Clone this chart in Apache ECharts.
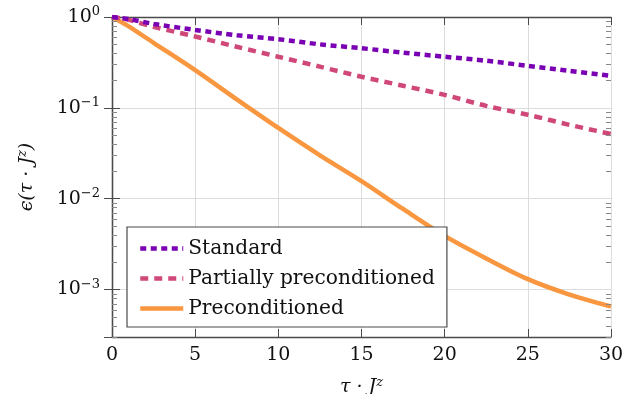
<!DOCTYPE html>
<html>
<head>
<meta charset="utf-8">
<script src="https://cdn.jsdelivr.net/npm/echarts@6/dist/echarts.min.js"></script>
<style>
  html, body { margin: 0; padding: 0; background: #fff; }
  #chart { width: 636px; height: 394px; }
</style>
</head>
<body>
<div id="chart"></div>
<script>
// values (x = tau * J^z, y = epsilon)
const tauValues = [0, 1, 2.5, 5, 7.5, 10, 12.5, 15, 17.5, 20, 22.5, 25, 27.5, 30];
const standardValues = [1.0, 0.95, 0.84, 0.72, 0.63, 0.57, 0.50, 0.453, 0.405, 0.365, 0.33, 0.29, 0.255, 0.225];
const partialValues = [1.0, 0.93, 0.78, 0.61, 0.47, 0.365, 0.284, 0.22, 0.175, 0.139, 0.105, 0.084, 0.065, 0.0515];
const precondValues = [1.0, 0.79, 0.52, 0.26, 0.124, 0.060, 0.030, 0.0156, 0.0077, 0.0039, 0.0022, 0.0013, 0.00088, 0.00065];
const seriesNames = ["Standard", "Partially preconditioned", "Preconditioned"];
const xTicks = [0, 5, 10, 15, 20, 25, 30];
const yMin = 3e-4;
const yMax = 1;

const FONT = "DejaVu Serif";
const AXIS = "#4a4a4a";
const GRID = "#dcdcdc";

const pairs = (ys) => tauValues.map((x, i) => [x, ys[i]]);

const yLabel = (v) => {
  const e = Math.log10(v);
  const r = Math.round(e);
  if (Math.abs(e - r) > 0.01) return "";
  return `{b|10}{s|${r < 0 ? "\u2212" + -r : r}}`;
};

const chart = echarts.init(document.getElementById("chart"), undefined, { renderer: "canvas" });

const xCommon = {
  type: "value",
  min: xTicks[0],
  max: xTicks[xTicks.length - 1],
  interval: 5,
  axisLine: { show: true, onZero: false, lineStyle: { color: AXIS, width: 1.3 } },
  axisTick: { show: true, inside: true, length: 8, lineStyle: { color: AXIS, width: 1 } },
};
const yCommon = {
  type: "log",
  logBase: 10,
  min: yMin,
  max: yMax,
  splitNumber: 4,
  axisLine: { show: true, lineStyle: { color: AXIS, width: 1.3 } },
  axisTick: { show: true, inside: true, length: 8, lineStyle: { color: AXIS, width: 1 } },
};

const nameRich = {
  i: { fontFamily: FONT, fontStyle: "italic", fontSize: 19, color: "#111" },
  s: { fontFamily: FONT, fontStyle: "italic", fontSize: 13, color: "#111", padding: [0, 0, 10, 0] },
};

chart.setOption({
  animation: false,
  textStyle: { fontFamily: FONT },
  grid: { left: 112, right: 25, top: 17, bottom: 57, containLabel: false, outerBoundsMode: "none" },
  legend: {
    orient: "vertical",
    left: 127,
    top: 227,
    padding: [11, 12, 8, 11],
    itemGap: 9,
    itemWidth: 43,
    itemHeight: 14,
    backgroundColor: "#fff",
    borderColor: AXIS,
    borderWidth: 1.2,
    borderRadius: 0,
    itemStyle: { opacity: 0 },
    lineStyle: { width: 4.5 },
    textStyle: { fontFamily: FONT, fontSize: 20.2, color: "#111", lineHeight: 21 },
    data: seriesNames,
  },
  xAxis: [
    {
      ...xCommon,
      position: "bottom",
      splitLine: { show: true, lineStyle: { color: GRID, width: 1 } },
      axisLabel: { margin: 9, fontFamily: FONT, fontSize: 19, color: "#111" },
      name: "{i|\u03c4 \u00b7 J}{s|z}",
      nameLocation: "middle",
      nameGap: 39,
      nameTextStyle: { rich: nameRich },
    },
    {
      ...xCommon,
      position: "top",
      splitLine: { show: false },
      axisLabel: { show: false },
    },
  ],
  yAxis: [
    {
      ...yCommon,
      position: "left",
      splitLine: { show: true, lineStyle: { color: GRID, width: 1 } },
      axisLabel: {
        margin: 12,
        formatter: yLabel,
        rich: {
          b: { fontFamily: FONT, fontSize: 19, color: "#111" },
          s: { fontFamily: FONT, fontSize: 13, color: "#111", padding: [0, 0, 10, 0] },
        },
      },
      name: "{i|\u03f5(\u03c4 \u00b7 J}{s|z}{i|)}",
      nameLocation: "middle",
      nameRotate: 90,
      nameGap: 73,
      nameTextStyle: { rich: nameRich },
    },
    {
      ...yCommon,
      position: "right",
      splitLine: { show: false },
      axisLabel: { show: false },
    },
  ],
  series: [
    {
      name: seriesNames[0],
      type: "line",
      data: pairs(standardValues),
      smooth: 0.3,
      symbol: "none",
      z: 4,
      itemStyle: { color: "#7a00b4" },
      lineStyle: { color: "#7a00b4", width: 4.5, type: [6, 4.5], cap: "butt" },
    },
    {
      name: seriesNames[1],
      type: "line",
      data: pairs(partialValues),
      smooth: 0.3,
      symbol: "none",
      z: 3,
      itemStyle: { color: "#d04879" },
      lineStyle: { color: "#d04879", width: 4.5, type: [8, 6], cap: "butt" },
    },
    {
      name: seriesNames[2],
      type: "line",
      data: pairs(precondValues),
      smooth: 0.3,
      symbol: "none",
      z: 2,
      itemStyle: { color: "#f99640" },
      lineStyle: { color: "#f99640", width: 4.5, type: "solid" },
    },
  ],
});

// minor log ticks (2..9 x 10^k) on left and right axes, placed through the axis scales
function drawMinorTicks() {
  const xl = chart.convertToPixel({ xAxisIndex: 0 }, xTicks[0]);
  const xr = chart.convertToPixel({ xAxisIndex: 0 }, xTicks[xTicks.length - 1]);
  const elements = [];
  for (let k = -4; k <= 0; k++) {
    for (let m = 2; m <= 9; m++) {
      const v = m * Math.pow(10, k);
      if (v < yMin || v > yMax) continue;
      const y = Math.round(chart.convertToPixel({ yAxisIndex: 0 }, v)) + 0.5;
      elements.push({ type: "line", shape: { x1: xl, y1: y, x2: xl + 5, y2: y }, style: { stroke: "#888", lineWidth: 1 }, z: 10 });
      elements.push({ type: "line", shape: { x1: xr - 5, y1: y, x2: xr, y2: y }, style: { stroke: "#888", lineWidth: 1 }, z: 10 });
    }
  }
  chart.setOption({ graphic: elements });
}
drawMinorTicks();
</script>
</body>
</html>
